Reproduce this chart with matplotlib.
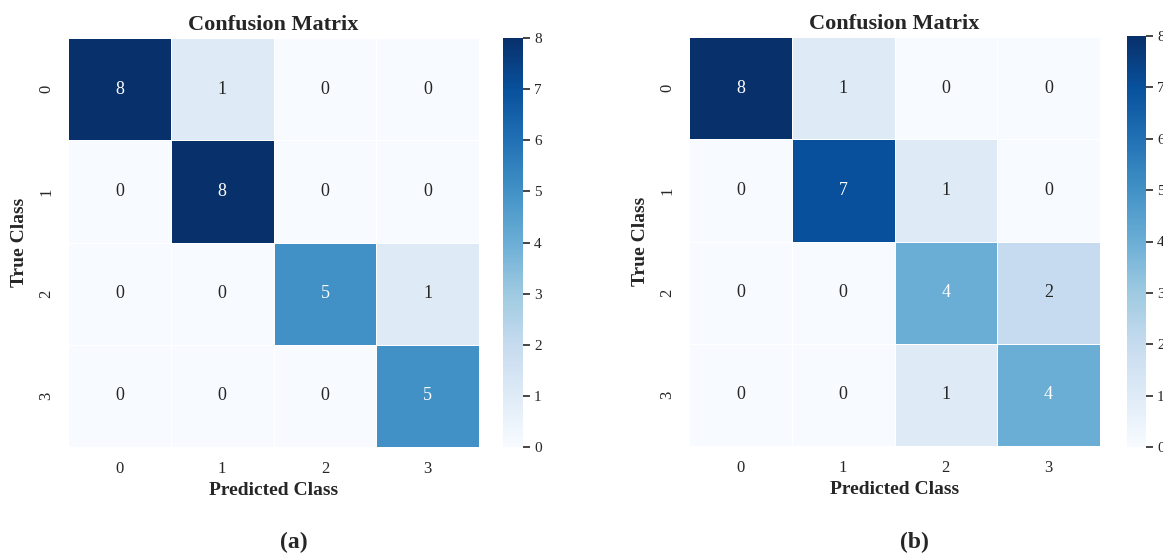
import numpy as np
import matplotlib
matplotlib.use("Agg")
import matplotlib.pyplot as plt
import seaborn as sns

classes = ["0", "1", "2", "3"]
cm_a = [[8, 1, 0, 0],
        [0, 8, 0, 0],
        [0, 0, 5, 1],
        [0, 0, 0, 5]]
cm_b = [[8, 1, 0, 0],
        [0, 7, 1, 0],
        [0, 0, 4, 2],
        [0, 0, 1, 4]]
cbar_ticks = [0, 1, 2, 3, 4, 5, 6, 7, 8]
panel_labels = ["(a)", "(b)"]

sns.set_style("white")
plt.rcParams['font.family'] = ['Liberation Serif', 'DejaVu Serif']
plt.rcParams['text.color'] = '#262626'
plt.rcParams['axes.labelcolor'] = '#262626'
plt.rcParams['xtick.color'] = '#262626'
plt.rcParams['ytick.color'] = '#262626'

W, H = 1163, 556
fig = plt.figure(figsize=(W / 100, H / 100), dpi=100)

def ax_px(x0, y0, x1, y1):
    return fig.add_axes([x0 / W, 1 - y1 / H, (x1 - x0) / W, (y1 - y0) / H])

panels = [
    (cm_a, (68, 38, 479, 447), (503, 38, 523, 447), 294),
    (cm_b, (689, 37, 1100, 446), (1127, 36, 1146, 447), 914),
]

for (cm, hbox, cbox, lx), lab in zip(panels, panel_labels):
    ax = ax_px(*hbox)
    cax = ax_px(*cbox)
    sns.heatmap(np.array(cm), ax=ax, cbar_ax=cax, cmap="Blues", vmin=0, vmax=8,
                annot=True, fmt="d", annot_kws={"size": 13},
                linewidths=0.6, linecolor="white",
                xticklabels=classes, yticklabels=classes,
                cbar_kws={"ticks": cbar_ticks})
    ax.set_title("Confusion Matrix", fontsize=16, fontweight="bold", pad=6)
    ax.set_xlabel("Predicted Class", fontsize=14, fontweight="bold", labelpad=4)
    ax.set_ylabel("True Class", fontsize=14, fontweight="bold", labelpad=7)
    ax.tick_params(axis="both", length=0, labelsize=12, pad=10)
    plt.setp(ax.get_yticklabels(), rotation=90, va="center")
    plt.setp(ax.get_xticklabels(), rotation=0)
    cax.tick_params(length=5, width=1.2, labelsize=11, color="#262626", pad=3)
    for s in cax.spines.values():
        s.set_visible(False)
    fig.text(lx / W, 1 - 542 / H, lab, ha="center", va="center",
             fontsize=17, fontweight="bold")

fig.savefig("out.png", dpi=100)
